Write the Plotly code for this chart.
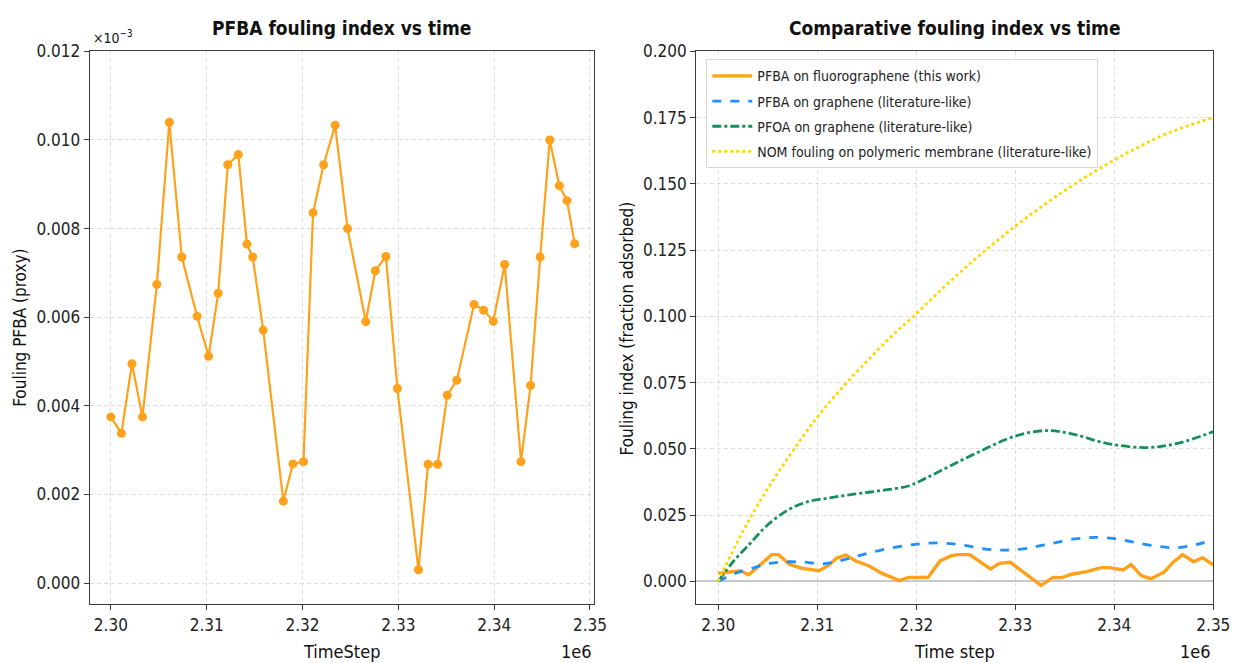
import plotly.graph_objects as go

# ---------------- data ----------------
# Left: PFBA fouling index (proxy)
left_steps = [2300000, 2301100, 2302200, 2303300, 2304800, 2306100, 2307400, 2309000,
              2310200, 2311200, 2312200, 2313300, 2314200, 2314800, 2315900, 2318000,
              2319000, 2320100, 2321100, 2322200, 2323400, 2324700, 2326600, 2327600,
              2328700, 2329900, 2332100, 2333100, 2334100, 2335100, 2336100, 2337900,
              2338900, 2339900, 2341100, 2342800, 2343800, 2344800, 2345800, 2346800,
              2347600, 2348400]
left_fouling = [0.00375, 0.00338, 0.00495, 0.00375, 0.00674, 0.01040, 0.00736, 0.00602,
                0.00512, 0.00654, 0.00944, 0.00967, 0.00765, 0.00736, 0.00571, 0.00185,
                0.00269, 0.00274, 0.00836, 0.00944, 0.01033, 0.00800, 0.00590, 0.00705,
                0.00737, 0.00439, 0.00030, 0.00268, 0.00268, 0.00424, 0.00458, 0.00629,
                0.00616, 0.00591, 0.00719, 0.00274, 0.00446, 0.00736, 0.01000, 0.00897,
                0.00863, 0.00766]

# Right: comparative curves
fg_steps = [2300000, 2301500, 2302200, 2303100, 2304400, 2305400, 2306100, 2307200,
            2308500, 2310200, 2311200, 2312000, 2312900, 2313900, 2315200, 2316500,
            2318300, 2319200, 2321200, 2322400, 2323500, 2324200, 2325400, 2327500,
            2328400, 2329500, 2332600, 2333800, 2334700, 2335700, 2337200, 2338700,
            2339500, 2340900, 2341700, 2342700, 2343700, 2345000, 2346000, 2346900,
            2348000, 2348900, 2350000]
fg_vals = [0.0030, 0.0037, 0.0040, 0.0025, 0.0068, 0.0101, 0.0101, 0.0064,
           0.0049, 0.0040, 0.0062, 0.0089, 0.0099, 0.0077, 0.0059, 0.0031,
           0.0003, 0.0015, 0.0015, 0.0077, 0.0096, 0.0101, 0.0101, 0.0047,
           0.0068, 0.0072, -0.0015, 0.0015, 0.0014, 0.0027, 0.0037, 0.0052,
           0.0052, 0.0043, 0.0064, 0.0022, 0.0010, 0.0034, 0.0074, 0.0101,
           0.0074, 0.0089, 0.0062]

gr_steps = [2300000, 2301500, 2303200, 2305200, 2307200, 2308900, 2310500, 2312200,
            2314500, 2317200, 2319900, 2322200, 2324500, 2327000, 2329000, 2331000,
            2333500, 2336000, 2338000, 2340000, 2342000, 2344200, 2346200, 2348200,
            2350000]
gr_vals = [0.0, 0.0027, 0.0047, 0.0068, 0.0074, 0.0072, 0.0066, 0.0077,
           0.0100, 0.0124, 0.0140, 0.0145, 0.0138, 0.0122, 0.0118, 0.0124,
           0.0142, 0.0160, 0.0166, 0.0161, 0.0148, 0.0133, 0.0127, 0.0138,
           0.0158]

pfoa_steps = [2300000, 2301500, 2303200, 2304900, 2306900, 2308900, 2311200, 2313900,
              2316500, 2319200, 2321000, 2323400, 2326500, 2329900, 2333000, 2335800,
              2339200, 2343300, 2346400, 2350000]
pfoa_vals = [0.0, 0.0074, 0.0142, 0.0210, 0.0266, 0.0299, 0.0315, 0.0330,
             0.0343, 0.0360, 0.0390, 0.0435, 0.0492, 0.0547, 0.0569, 0.0556,
             0.0521, 0.0505, 0.0521, 0.0565]

nom_steps = [2300000, 2302500, 2305000, 2307500, 2310000, 2312500, 2315000, 2317500,
             2320000, 2322500, 2325000, 2327500, 2330000, 2332500, 2335000, 2337500,
             2340000, 2342500, 2345000, 2347500, 2350000]
nom_vals = [0.0, 0.019, 0.035, 0.049, 0.062, 0.073, 0.083, 0.0925,
            0.101, 0.110, 0.1185, 0.1265, 0.134, 0.141, 0.1475, 0.1535,
            0.159, 0.164, 0.1685, 0.172, 0.175]

x_tickvals = [2300000, 2310000, 2320000, 2330000, 2340000, 2350000]
x_ticktext = ["2.30", "2.31", "2.32", "2.33", "2.34", "2.35"]
left_yticks = [0.000, 0.002, 0.004, 0.006, 0.008, 0.010, 0.012]
right_yticks = [0.000, 0.025, 0.050, 0.075, 0.100, 0.125, 0.150, 0.175, 0.200]

# ---------------- figure ----------------
W, H = 1253, 663
FONT = "DejaVu Sans Condensed, DejaVu Sans"
ORANGE = "#FFA11A"

fig = go.Figure()

fig.add_trace(go.Scatter(x=left_steps, y=left_fouling, mode="lines+markers",
                         line=dict(color=ORANGE, width=2.2),
                         marker=dict(color=ORANGE, size=9),
                         showlegend=False, xaxis="x", yaxis="y"))

fig.add_trace(go.Scatter(x=fg_steps, y=fg_vals, mode="lines",
                         line=dict(color=ORANGE, width=3.4),
                         name="PFBA on fluorographene (this work)", legendgroup="a",
                         xaxis="x2", yaxis="y2"))
fig.add_trace(go.Scatter(x=gr_steps, y=gr_vals, mode="lines",
                         line=dict(color="#1E90FF", width=2.8, dash="dash", shape="spline"),
                         name="PFBA on graphene (literature-like)", legendgroup="b",
                         xaxis="x2", yaxis="y2"))
fig.add_trace(go.Scatter(x=pfoa_steps, y=pfoa_vals, mode="lines",
                         line=dict(color="#178F5A", width=2.8, dash="dashdot", shape="spline"),
                         name="PFOA on graphene (literature-like)", legendgroup="c",
                         xaxis="x2", yaxis="y2"))
fig.add_trace(go.Scatter(x=nom_steps, y=nom_vals, mode="lines",
                         line=dict(color="#FFD700", width=2.8, dash="dot", shape="spline"),
                         name="NOM fouling on polymeric membrane (literature-like)",
                         legendgroup="d", xaxis="x2", yaxis="y2"))

def px_x(p):
    return p / W

def px_y(p):
    return 1 - p / H

axis_common = dict(showline=True, linecolor="#3a3a3a", linewidth=1.4, mirror=True,
                   ticks="outside", ticklen=5, tickcolor="#3a3a3a",
                   showgrid=True, gridcolor="#dedede", griddash="4px,3px", gridwidth=1,
                   tickfont=dict(family=FONT, size=17, color="#222222"))

top_px, bot_px = 42, 603
ydom = [px_y(bot_px), px_y(top_px)]

fig.update_layout(
    width=W, height=H,
    margin=dict(l=0, r=0, t=0, b=0),
    paper_bgcolor="white", plot_bgcolor="white",
    font=dict(family=FONT, color="#222222"),
    xaxis=dict(domain=[px_x(91), px_x(602)], range=[2297800, 2350400],
               tickvals=x_tickvals, ticktext=x_ticktext, anchor="y", zeroline=False,
               **axis_common),
    yaxis=dict(domain=ydom, range=[-0.00047, 0.012], tickvals=left_yticks,
               tickformat=".3f", anchor="x", zeroline=False, **axis_common),
    xaxis2=dict(domain=[px_x(706), px_x(1230)], range=[2297800, 2350000],
                tickvals=x_tickvals, ticktext=x_ticktext, anchor="y2", zeroline=False,
                **axis_common),
    yaxis2=dict(domain=ydom, range=[-0.0085, 0.2], tickvals=right_yticks,
                tickformat=".3f", anchor="x2", zeroline=True, zerolinecolor="#c8c8c8",
                zerolinewidth=1.5, **axis_common),
    legend=dict(x=px_x(716), y=px_y(50), xanchor="left", yanchor="top",
                bgcolor="rgba(255,255,255,0.92)", bordercolor="#d8d8d8", borderwidth=1,
                font=dict(family=FONT, size=14, color="#222222"), itemwidth=40,
                tracegroupgap=4),
)

ann = []
def add_text(text, x, y, size, bold=False, xanchor="center", yanchor="middle", angle=0):
    ann.append(dict(text=f"<b>{text}</b>" if bold else text, x=px_x(x), y=px_y(y),
                    xref="paper", yref="paper", showarrow=False, xanchor=xanchor,
                    yanchor=yanchor, textangle=angle,
                    font=dict(family=FONT, size=size, color="#111111")))

add_text("PFBA fouling index vs time", 346, 18, 19, bold=True)
add_text("Comparative fouling index vs time", 968, 18, 19, bold=True)
add_text("Fouling PFBA (proxy)", 20, 323, 17, angle=-90)
add_text("Fouling index (fraction adsorbed)", 636, 323, 17, angle=-90)
add_text("TimeStep", 346, 651, 18)
add_text("Time step", 968, 651, 18)
add_text("1e6", 602, 651, 18, xanchor="right")
add_text("1e6", 1230, 651, 18, xanchor="right")
add_text("×10<sup>−3</sup>", 92, 27, 14, xanchor="left")
fig.update_layout(annotations=ann)

fig.write_html("out.html")
